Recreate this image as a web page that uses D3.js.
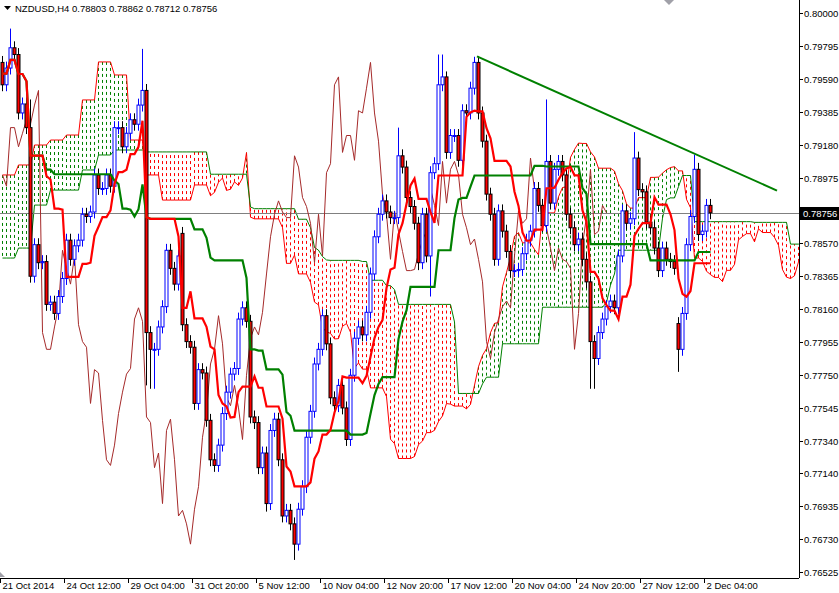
<!DOCTYPE html>
<html><head><meta charset="utf-8">
<script src="https://cdn.jsdelivr.net/npm/d3@7"></script>
<style>body{margin:0;background:#fff}svg{display:block}text{font-family:"Liberation Sans",Arial,sans-serif;font-size:9.5px}</style>
</head><body><svg id="c" width="839" height="593"></svg>
<script>
const closes=[0.79551,0.79655,0.79781,0.79739,0.79376,0.79432,0.79285,0.78362,0.78558,0.78446,0.78453,0.78187,0.78201,0.78131,0.78236,0.78348,0.78586,0.78467,0.78551,0.78586,
0.78747,0.78733,0.78761,0.78991,0.78907,0.78907,0.78991,0.78921,0.79285,0.79285,0.79166,0.79250,0.79334,0.79306,0.79425,0.79516,0.78012,0.77908,0.77908,0.78047,
0.78173,0.78523,0.78411,0.78313,0.78488,0.78061,0.77956,0.77921,0.77572,0.77782,0.77761,0.77467,0.77222,0.77187,0.77313,0.77509,0.77642,0.77754,0.77789,0.78096,
0.78166,0.78082,0.77488,0.77453,0.77173,0.77264,0.76950,0.77404,0.77474,0.77222,0.76873,0.76908,0.76824,0.76698,0.76915,0.77055,0.77362,0.77523,0.77817,0.77908,
0.78117,0.77942,0.77607,0.77558,0.77684,0.77544,0.77348,0.77747,0.77977,0.78047,0.77998,0.78138,0.78376,0.78607,0.78747,0.78830,0.78761,0.78726,0.78726,0.79110,
0.79040,0.78851,0.78795,0.78691,0.78446,0.78747,0.78488,0.79005,0.79061,0.79551,0.79600,0.79131,0.79236,0.79236,0.79082,0.79390,0.79376,0.79530,0.79690,0.79376,
0.79201,0.78872,0.78747,0.78467,0.78768,0.78642,0.78516,0.78397,0.78397,0.78404,0.78502,0.78586,0.78642,0.78907,0.78802,0.78677,0.79075,0.78816,0.79026,0.79075,
0.78991,0.78747,0.78663,0.78558,0.78593,0.78467,0.78327,0.77956,0.77851,0.78012,0.78096,0.78173,0.78208,0.78166,0.78488,0.78768,0.78691,0.78719,0.79096,0.78900,
0.78886,0.78698,0.78663,0.78537,0.78397,0.78537,0.78467,0.78453,0.78411,0.77908,0.78131,0.78558,0.78733,0.79026,0.78621,0.78642,0.78802,0.78756];
const firstOpen=0.79690;
const openOv={45:0.78628,169:0.78068};
const highOv={35:0.79774,109:0.79739,110:0.79739,111:0.79634,118:0.79725,99:0.79285,136:0.79460,158:0.79257,173:0.79117,2:0.79900,7:0.79460};
const lowOv={36:0.77684,37:0.77663,38:0.77663,147:0.77663,148:0.77663,169:0.77768,73:0.76600,66:0.76900,107:0.78236,104:0.78400};
const wick=0.0004;
const leadA=[0.78991,0.79053,0.79177,0.79208,0.79239,0.79457,0.79693,0.79612,0.79208,0.78991,0.78835,0.78835,0.78929];
const leadB=[0.78475,0.78537,0.78804,0.78897,0.78897,0.79022,0.79115,0.79146,0.79146,0.79134,0.79134,0.79134,0.79134];
const yTicks=[0.80000,0.79795,0.79590,0.79385,0.79180,0.78975,0.78570,0.78365,0.78160,0.77955,0.77750,0.77545,0.77340,0.77140,0.76935,0.76730,0.76525];
const xLabels=["21 Oct 2014","24 Oct 12:00","29 Oct 04:00","31 Oct 20:00","5 Nov 12:00","10 Nov 04:00","12 Nov 20:00","17 Nov 12:00","20 Nov 04:00","24 Nov 20:00","27 Nov 12:00","2 Dec 04:00"];
const trend=[[118.75,0.79727],[193.75,0.78894]];
const current=0.78756;
const titleText="NZDUSD,H4  0.78803 0.78862 0.78712 0.78756";

const n=closes.length;
const opens=closes.map((c,i)=>openOv[i]!==undefined?openOv[i]:(i===0?firstOpen:closes[i-1]));
const highs=closes.map((c,i)=>highOv[i]!==undefined?Math.max(highOv[i],c,opens[i]):Math.max(c,opens[i])+wick);
const lows=closes.map((c,i)=>lowOv[i]!==undefined?Math.min(lowOv[i],c,opens[i]):Math.min(c,opens[i])-wick);

const svg=d3.select("#c");
const W=799,B=578;
const x=d3.scaleLinear().domain([0,1]).range([2,6]);
const y=d3.scaleLinear().domain([0.76525,0.80000]).range([572,12.5]);
svg.append("defs").append("clipPath").attr("id","cp").append("rect").attr("width",W).attr("height",B);
const plot=svg.append("g").attr("clip-path","url(#cp)");

function mid(i,p){const lo=Math.max(0,i-p+1);return (d3.max(highs.slice(lo,i+1))+d3.min(lows.slice(lo,i+1)))/2;}
const tenkan=d3.range(n).map(i=>mid(i,9));
const kijun=d3.range(n).map(i=>mid(i,26));
const spanA=[],spanB=[];
for(let i=0;i<n+26;i++){
  if(i<52){spanA.push(leadA[Math.floor(i/4)]);spanB.push(leadB[Math.floor(i/4)]);}
  else{const j=i-26;spanA.push((tenkan[j]+kijun[j])/2);spanB.push(mid(j,52));}
}
spanA.forEach((a,i)=>{
  const b=spanB[i];
  plot.append("line").attr("x1",x(i)+0.5).attr("x2",x(i)+0.5).attr("y1",y(a)).attr("y2",y(b))
   .attr("stroke",a>=b?"#008000":"#ff0000").attr("stroke-width",1).attr("stroke-dasharray","3,3");
});
const ln=d3.line().x((d,i)=>x(i)+0.5).y(d=>y(d));
plot.append("path").attr("d",ln(spanA)).attr("fill","none").attr("stroke","#ff0000").attr("stroke-width",1);
plot.append("path").attr("d",ln(spanB)).attr("fill","none").attr("stroke","#008000").attr("stroke-width",1);
plot.append("line").attr("x1",0).attr("x2",W).attr("y1",Math.round(y(current))+0.5).attr("y2",Math.round(y(current))+0.5).attr("stroke","#808080");
plot.append("path").attr("d",ln(closes.slice(26))).attr("fill","none").attr("stroke","#a52a2a").attr("stroke-width",1);
closes.forEach((c,i)=>{
  const o=opens[i],up=c>=o,cx=Math.round(x(i))+0.5;
  plot.append("line").attr("x1",cx).attr("x2",cx).attr("y1",y(highs[i])).attr("y2",y(lows[i])).attr("stroke",up?"#0000ff":"#000");
  const t=y(Math.max(o,c)),bt=y(Math.min(o,c));
  plot.append("rect").attr("x",cx-1.5).attr("y",t).attr("width",3).attr("height",Math.max(1,bt-t))
   .attr("fill",up?"#fff":"#ff0000").attr("stroke",up?"#0000ff":"#000").attr("stroke-width",1);
});
plot.append("path").attr("d",ln(kijun)).attr("fill","none").attr("stroke","#008000").attr("stroke-width",2.2);
plot.append("path").attr("d",ln(tenkan)).attr("fill","none").attr("stroke","#ff0000").attr("stroke-width",2.2);
plot.append("line").attr("x1",x(trend[0][0])).attr("y1",y(trend[0][1])).attr("x2",x(trend[1][0])).attr("y2",y(trend[1][1])).attr("stroke","#008000").attr("stroke-width",2);
svg.append("line").attr("x1",W+0.5).attr("x2",W+0.5).attr("y1",0).attr("y2",B).attr("stroke","#000");
svg.append("line").attr("x1",0).attr("x2",W).attr("y1",B+0.5).attr("y2",B+0.5).attr("stroke","#000");
yTicks.forEach(v=>{
  const yy=Math.round(y(v))+0.5;
  svg.append("line").attr("x1",W).attr("x2",W+4).attr("y1",yy).attr("y2",yy).attr("stroke","#000");
  svg.append("text").attr("x",804).attr("y",yy+3.5).text(v.toFixed(5));
});
const cy=Math.round(y(current));
svg.append("rect").attr("x",800).attr("y",cy-6).attr("width",39).attr("height",13).attr("fill","#000");
svg.append("text").attr("x",803).attr("y",cy+3.5).attr("fill","#fff").text(current.toFixed(5));
xLabels.forEach((l,k)=>{
  const xx=Math.round(x(16*k))-1.5;
  svg.append("line").attr("x1",xx).attr("x2",xx).attr("y1",B).attr("y2",B+5).attr("stroke","#000");
  svg.append("text").attr("x",xx+2).attr("y",589).text(l);
});
svg.append("path").attr("d","M4,6L11,6L7.5,10Z").attr("fill","#000");
svg.append("text").attr("x",15).attr("y",12).attr("fill","#000").text(titleText);
svg.append("path").attr("d","M664,0L674,0L669,5Z").attr("fill","#a0a0a8");
svg.append("path").attr("d","M0,577L0,572L5,577Z").attr("fill","#a0a0a8");
</script></body></html>
